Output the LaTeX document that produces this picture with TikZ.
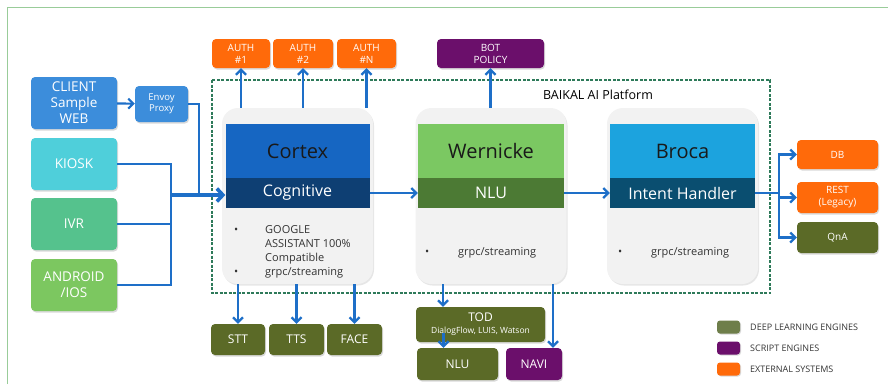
\documentclass[tikz,border=0pt]{standalone}
\usepackage{fontspec}
\setmainfont{Open Sans}
\usetikzlibrary{arrows.meta,shadows}
\definecolor{clientblue}{HTML}{3C8DDB}
\definecolor{kioskcyan}{HTML}{4FCFDA}
\definecolor{ivrgreen}{HTML}{55C28D}
\definecolor{androidgreen}{HTML}{7CC760}
\definecolor{authorange}{HTML}{FF6A0A}
\definecolor{scriptpurple}{HTML}{6B0F6B}
\definecolor{engineolive}{HTML}{5B6A27}
\definecolor{legendolive}{HTML}{6E7E4A}
\definecolor{cortexblue}{HTML}{1666C2}
\definecolor{cognitivenavy}{HTML}{0E3F73}
\definecolor{wernickegreen}{HTML}{7BC862}
\definecolor{nlugreen}{HTML}{4C7A34}
\definecolor{brocablue}{HTML}{1CA3DE}
\definecolor{intentblue}{HTML}{0A4E70}
\definecolor{arrowblue}{HTML}{1E6FC8}
\definecolor{framegreen}{HTML}{2E7A5A}
\definecolor{cardgray}{HTML}{F2F2F2}
\begin{document}
\begin{tikzpicture}[x=1pt,y=-1pt]
\tikzstyle{box_style} = [rounded corners=4pt, text=white, align=center, inner sep=0pt, drop shadow={opacity=0.3,shadow xshift=1pt,shadow yshift=-1.5pt}]
\tikzstyle{client_style} = [box_style, minimum width=86pt, minimum height=52pt, font=\fontsize{13.5}{16}\selectfont]
\tikzstyle{small_style} = [box_style, font=\fontsize{10}{12}\selectfont]
\tikzstyle{engine_style} = [box_style, fill=engineolive, font=\fontsize{12}{14}\selectfont]
\tikzstyle{card_style} = [fill=cardgray, rounded corners=16pt, minimum height=176pt, inner sep=0pt, drop shadow={opacity=0.2,shadow xshift=1pt,shadow yshift=-1.5pt}]
\tikzstyle{title_style} = [minimum height=54pt, inner sep=0pt, text=black!90, font=\fontsize{20}{23}\selectfont]
\tikzstyle{sub_style} = [minimum height=30pt, inner sep=0pt, text=white, font=\fontsize{16}{19}\selectfont]
\tikzstyle{note_style} = [anchor=north west, inner sep=0pt, text=black!80, font=\fontsize{11}{14}\selectfont]
\tikzstyle{legend_style} = [rounded corners=3pt, minimum width=23pt, minimum height=13pt, inner sep=0pt, drop shadow={opacity=0.3,shadow xshift=1pt,shadow yshift=-1pt}]
\tikzstyle{legend_text} = [anchor=west, inner sep=0pt, text=black!80, font=\fontsize{9}{11}\selectfont]
\tikzstyle{edge_style} = [draw=arrowblue, line width=2.2pt, -{Straight Barb[length=5pt,width=10pt]}]
\tikzstyle{line_style} = [draw=arrowblue, line width=2.2pt]
\tikzstyle{main_style} = [draw=arrowblue, line width=3.6pt, -{Straight Barb[length=6pt,width=13pt]}]
    \useasboundingbox (0,0) rectangle (888,384);
    \draw[green!50!black!40, line width=0.8pt] (7,384) -- (7,7) -- (888,7);

    % clients
    \node[client_style, fill=clientblue] (client) at (74,103) {CLIENT\\Sample\\WEB};
    \node[client_style, fill=kioskcyan] (kiosk) at (74,164) {KIOSK};
    \node[client_style, fill=ivrgreen] (ivr) at (74,224) {IVR};
    \node[client_style, fill=androidgreen] (android) at (74,285) {ANDROID\\/IOS};
    \node[box_style, fill=clientblue, minimum width=53pt, minimum height=36pt, font=\fontsize{9.5}{11}\selectfont] (envoy) at (161.5,104) {Envoy\\Proxy};

    % platform
    \draw[framegreen, line width=1.2pt, dash pattern=on 3pt off 1.5pt] (212,80) rectangle (770,293);
    \node[inner sep=0pt, font=\fontsize{12.5}{15}\selectfont] (platform) at (598,95) {BAIKAL AI Platform};

    \node[card_style, minimum width=151pt] (cortex_card) at (297.5,196) {};
    \node[title_style, fill=cortexblue, minimum width=144pt] (cortex) at (297.5,151) {Cortex};
    \node[sub_style, fill=cognitivenavy, minimum width=144pt] (cognitive) at (297.5,193) {Cognitive};
    \node[note_style] (cortex_notes) at (234,223) {\begin{tabular}{@{}p{31pt}@{}l@{}}\textbullet & GOOGLE\\ & ASSISTANT 100\%\\ & Compatible\\ \textbullet & grpc/streaming\end{tabular}};

    \node[card_style, minimum width=151pt] (wernicke_card) at (491,196) {};
    \node[title_style, fill=wernickegreen, minimum width=146pt] (wernicke) at (491,151) {Wernicke};
    \node[sub_style, fill=nlugreen, minimum width=146pt] (nlu) at (491,193) {NLU};
    \node[note_style] (wernicke_notes) at (425,245) {\begin{tabular}{@{}p{33pt}@{}l@{}}\textbullet & grpc/streaming\end{tabular}};

    \node[card_style, minimum width=151pt] (broca_card) at (682.5,196) {};
    \node[title_style, fill=brocablue, minimum width=145pt] (broca) at (682.5,151) {Broca};
    \node[sub_style, fill=intentblue, minimum width=145pt] (intent) at (682.5,193) {Intent Handler};
    \node[note_style] (broca_notes) at (618,245) {\begin{tabular}{@{}p{33pt}@{}l@{}}\textbullet & grpc/streaming\end{tabular}};

    % auth and policy
    \node[small_style, fill=authorange, minimum width=58pt, minimum height=29pt] (auth1) at (241,53.5) {AUTH\\\#1};
    \node[small_style, fill=authorange, minimum width=60pt, minimum height=29pt] (auth2) at (303,53.5) {AUTH\\\#2};
    \node[small_style, fill=authorange, minimum width=59pt, minimum height=29pt] (authn) at (366.5,53.5) {AUTH\\\#N};
    \node[small_style, fill=scriptpurple, minimum width=107pt, minimum height=29pt] (bot) at (490.5,53.5) {BOT\\POLICY};

    % engines
    \node[engine_style, minimum width=54pt, minimum height=31pt] (stt) at (238,339.5) {STT};
    \node[engine_style, minimum width=55pt, minimum height=31pt] (tts) at (296.5,339.5) {TTS};
    \node[engine_style, minimum width=55pt, minimum height=31pt] (face) at (354.5,339.5) {FACE};
    \node[engine_style, minimum width=129pt, minimum height=35pt] (tod) at (480.5,324.5) {TOD\\[-2pt]{\fontsize{8.5}{10}\selectfont DialogFlow, LUIS, Watson}};
    \node[engine_style, minimum width=81pt, minimum height=32pt] (tod_nlu) at (457.5,364) {NLU};
    \node[engine_style, fill=scriptpurple, minimum width=56pt, minimum height=32pt] (navi) at (534,364) {NAVI};

    % external systems
    \node[small_style, fill=authorange, minimum width=81pt, minimum height=29pt] (db) at (837.5,154.5) {DB};
    \node[small_style, fill=authorange, minimum width=81pt, minimum height=31pt] (rest) at (837.5,197.5) {REST\\(Legacy)};
    \node[small_style, fill=engineolive, minimum width=81pt, minimum height=31pt] (qna) at (837.5,237.5) {QnA};

    % legend
    \node[legend_style, fill=legendolive] (leg1) at (728.5,327) {};
    \node[legend_style, fill=scriptpurple] (leg2) at (728.5,348) {};
    \node[legend_style, fill=authorange] (leg3) at (728.5,369) {};
    \node[legend_text] (leg1_text) at (750,327) {DEEP LEARNING ENGINES};
    \node[legend_text] (leg2_text) at (750,348) {SCRIPT ENGINES};
    \node[legend_text] (leg3_text) at (750,369) {EXTERNAL SYSTEMS};

    % connectors
    \coordinate (bus) at (171,195);
    \coordinate (merge) at (199,195);
    \coordinate (split) at (779,193);

    \draw[edge_style] (client) edge (envoy);
    \draw[line_style] (kiosk.east) -| (bus);
    \draw[line_style] (ivr.east) -| (bus);
    \draw[line_style] (android.east) -| (bus);
    \draw[line_style] (envoy.east) -| (merge);
    \draw[main_style] (bus) -- (cortex.west |- bus);

    \draw[edge_style] (cognitive) edge (nlu);
    \draw[edge_style] (nlu) edge (intent);
    \draw[line_style] (intent.east) -- (split);
    \draw[edge_style] (split) |- (db.west);
    \draw[edge_style] (split) |- (rest.west);
    \draw[edge_style] (split) |- (qna.west);

    \draw[edge_style] (auth1 |- cortex_card.north) -- (auth1.south);
    \draw[edge_style] (auth2 |- cortex_card.north) -- (auth2.south);
    \draw[edge_style] (authn |- cortex_card.north) -- (authn.south);
    \draw[edge_style] (bot |- wernicke_card.north) -- (bot.south);

    \draw[edge_style] (stt |- cortex_card.south) -- (stt.north);
    \draw[edge_style] (tts |- cortex_card.south) -- (tts.north);
    \draw[edge_style] (face |- cortex_card.south) -- (face.north);
    \draw[edge_style] ([xshift=-48pt]wernicke_card.south) -- ([xshift=-48pt]wernicke_card.south |- tod.north);
    \draw[edge_style] ([xshift=62pt]wernicke_card.south) -- ([xshift=62pt]wernicke_card.south |- navi.north);
    \draw[edge_style] ([xshift=-37pt,yshift=9pt]tod.south) -- ([xshift=-37pt]tod.south |- tod_nlu.north);
\end{tikzpicture}
\end{document}
